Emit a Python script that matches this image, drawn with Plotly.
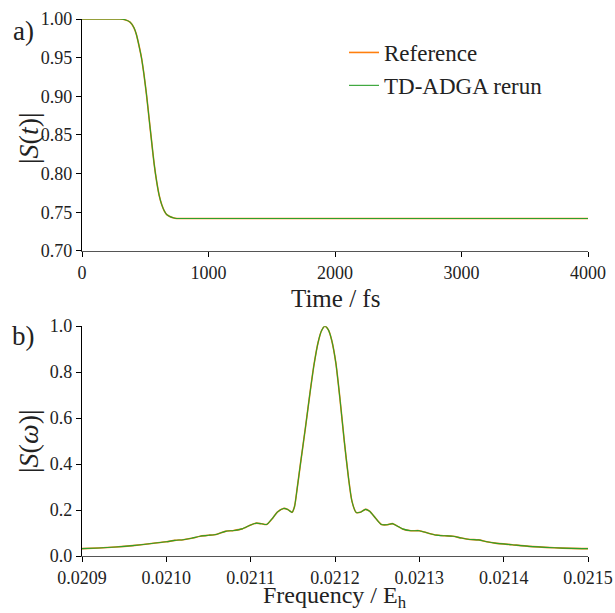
import plotly.graph_objects as go

# ---- data ----
time_fs = [0, 100, 200, 300, 340, 380, 410, 430, 450, 470, 490, 510, 530, 550,
           570, 590, 610, 630, 650, 670, 690, 720, 750, 800, 1000, 2000, 3000, 4000]
s_t = [1.0, 1.0, 1.0, 1.0, 0.999, 0.996, 0.989, 0.980, 0.966, 0.950, 0.928, 0.902,
       0.872, 0.842, 0.813, 0.790, 0.772, 0.760, 0.752, 0.747, 0.745, 0.743, 0.742,
       0.742, 0.742, 0.742, 0.742, 0.742]

freq = [0.02090, 0.02092, 0.02094, 0.02096, 0.02098, 0.02100, 0.02101, 0.02102,
        0.02103, 0.02104, 0.02105, 0.02106, 0.02107, 0.02108, 0.02109, 0.02110,
        0.021107, 0.021113, 0.021119, 0.021125, 0.021132, 0.021139, 0.021144,
        0.021149, 0.021152, 0.021155, 0.021159, 0.021165, 0.021170, 0.021175, 0.021180,
        0.021184, 0.021188, 0.021192, 0.021196, 0.021201, 0.021206, 0.021211,
        0.021216, 0.021220, 0.021225, 0.021230, 0.021236, 0.021241, 0.021248,
        0.021255, 0.021262, 0.021268, 0.021275, 0.021280, 0.02129, 0.02130,
        0.02131, 0.02132, 0.02133, 0.02134, 0.02135, 0.02136, 0.02137, 0.02138,
        0.02139, 0.02141, 0.02143, 0.02146, 0.02148, 0.02150]
s_w = [0.032, 0.035, 0.039, 0.045, 0.053, 0.062, 0.068, 0.071, 0.077, 0.086, 0.090,
       0.095, 0.107, 0.111, 0.118, 0.135, 0.143, 0.140, 0.137, 0.160, 0.192, 0.207,
       0.202, 0.190, 0.215, 0.29, 0.40, 0.56, 0.70, 0.83, 0.93, 0.98, 1.0, 0.985, 0.94,
       0.84, 0.68, 0.50, 0.34, 0.24, 0.19, 0.19, 0.203, 0.195, 0.165, 0.137, 0.136,
       0.141, 0.128, 0.118, 0.110, 0.110, 0.100, 0.091, 0.088, 0.086, 0.078, 0.072,
       0.070, 0.062, 0.056, 0.049, 0.042, 0.036, 0.033, 0.032]

series_names = ["Reference", "TD-ADGA rerun"]
series_colors = ["#ff7f0e", "#2ca02c"]

FONT = "Liberation Serif"
TXT = "#222222"
W, H = 615, 613
ML, MR, MT, MB = 82, 27, 19, 57

fig = go.Figure(layout=dict(template="none"))

for i, (name, col) in enumerate(zip(series_names, series_colors)):
    w = 1.6 if i == 0 else 1.1
    fig.add_trace(go.Scatter(x=time_fs, y=s_t, mode="lines", name=name,
                             line=dict(color=col, width=w, shape="spline", smoothing=0.6),
                             xaxis="x", yaxis="y", legendgroup=name, showlegend=True))
    fig.add_trace(go.Scatter(x=freq, y=s_w, mode="lines", name=name,
                             line=dict(color=col, width=w, shape="spline", smoothing=0.6),
                             xaxis="x2", yaxis="y2", legendgroup=name, showlegend=False))


def axis(**kw):
    d = dict(showgrid=False, zeroline=False, ticks="outside", ticklen=5,
             tickcolor="black", showline=True, linecolor="black", linewidth=1.2,
             tickfont=dict(family=FONT, size=18, color=TXT), automargin=False)
    d.update(kw)
    return d


plot_w = W - ML - MR
plot_h = H - MT - MB


def px_to_paper(px, py):
    return (px - ML) / plot_w, (H - MB - py) / plot_h


def label(text, px, py, size, angle=0):
    x, y = px_to_paper(px, py)
    return dict(text=text, x=x, y=y, xref="paper", yref="paper", showarrow=False,
                xanchor="center", yanchor="middle", textangle=angle,
                font=dict(family=FONT, size=size, color=TXT))


lx_, ly_ = px_to_paper(344, 31)

fig.update_layout(
    width=W, height=H,
    margin=dict(l=ML, r=MR, t=MT, b=MB, autoexpand=False),
    paper_bgcolor="white", plot_bgcolor="white",
    font=dict(family=FONT, color=TXT),
    xaxis=axis(domain=[0, 1], range=[0, 4000], tickvals=[0, 1000, 2000, 3000, 4000],
               anchor="y", linecolor="#555555"),
    yaxis=axis(domain=[0.568, 1], range=[0.70, 1.00],
               tickvals=[0.70, 0.75, 0.80, 0.85, 0.90, 0.95, 1.00], tickformat=".2f",
               anchor="x"),
    xaxis2=axis(domain=[0, 1], range=[0.0209, 0.0215],
                tickvals=[0.0209, 0.0210, 0.0211, 0.0212, 0.0213, 0.0214, 0.0215],
                tickformat=".4f", anchor="y2", linecolor="#555555"),
    yaxis2=axis(domain=[0, 0.428], range=[0, 1.0],
                tickvals=[0, 0.2, 0.4, 0.6, 0.8, 1.0], tickformat=".1f", anchor="x2"),
    legend=dict(x=lx_, y=ly_, xanchor="left", yanchor="top", bgcolor="rgba(0,0,0,0)",
                font=dict(family=FONT, size=23, color=TXT), tracegroupgap=9,
                traceorder="normal"),
    showlegend=True,
    annotations=[
        label("a)", 23, 31, 27),
        label("b)", 23, 336, 27),
        label("Time / fs", 335, 298, 25),
        label("Frequency / E<sub>h</sub>", 335, 597, 24),
        label("|<i>S</i>(<i>t</i>)|", 28, 138, 28, angle=-90),
        label("|<i>S</i>(<i>ω</i>)|", 28, 441, 28, angle=-90),
    ],
)

fig.write_html("out.html")
